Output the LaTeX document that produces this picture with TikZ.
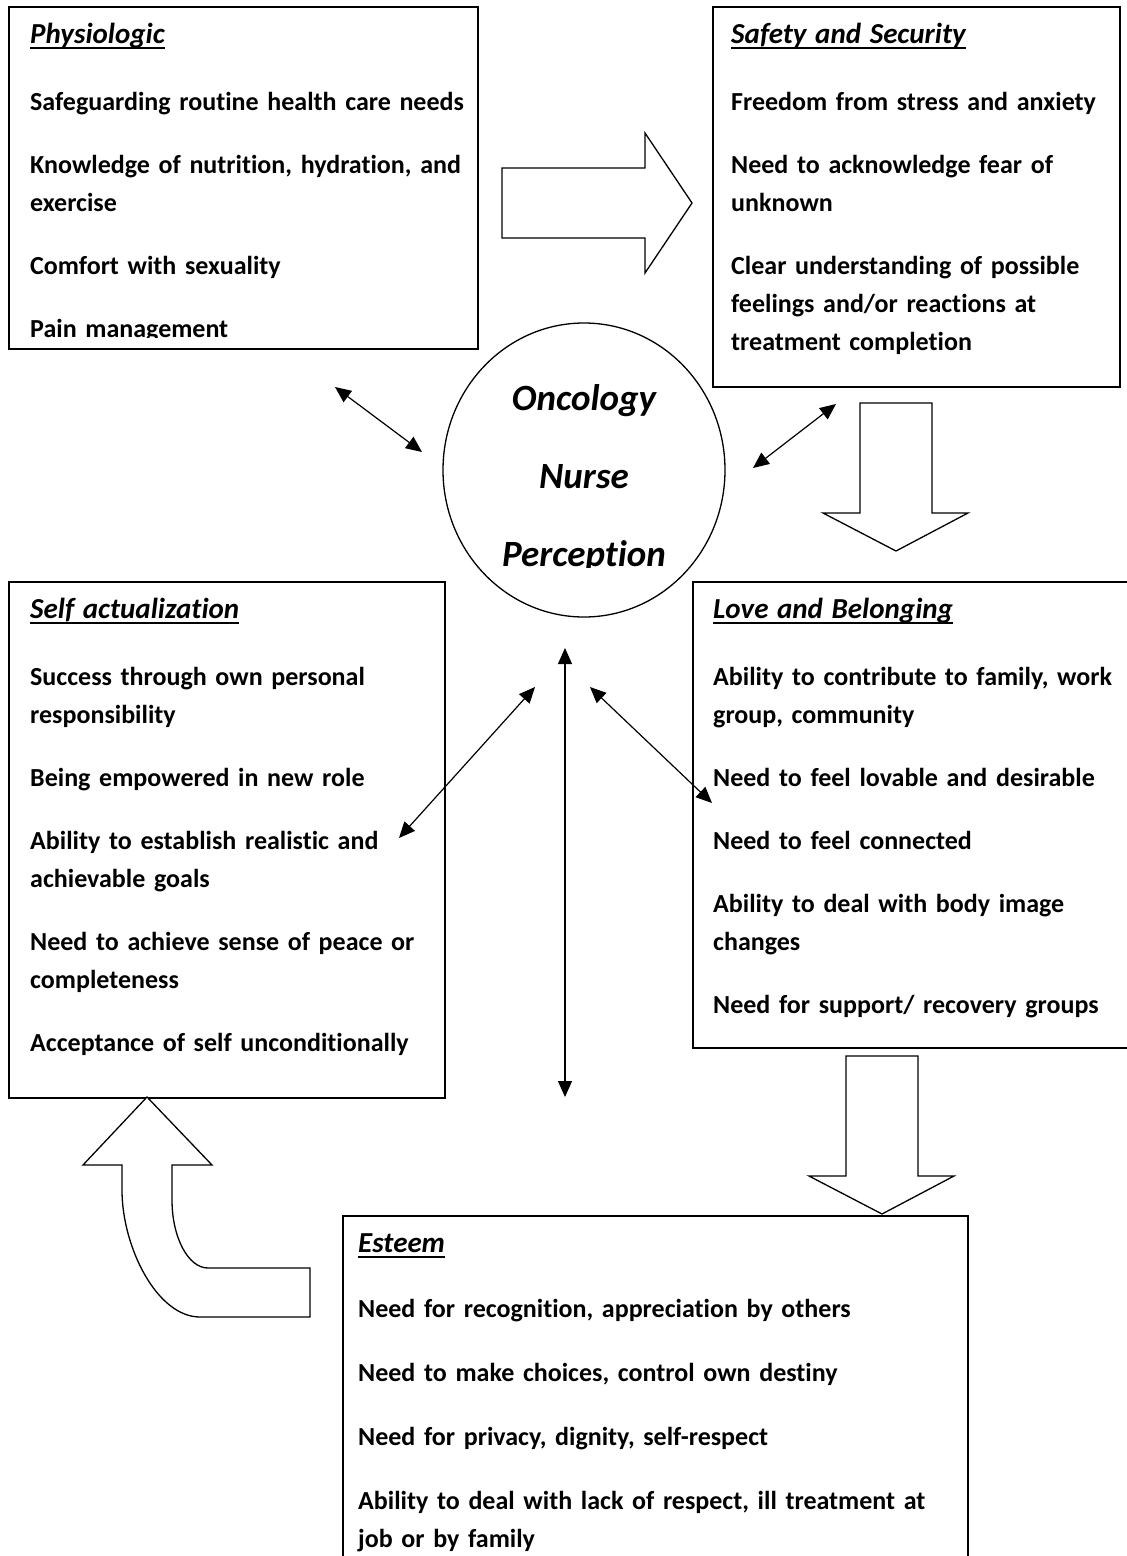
\documentclass[tikz,border=0pt]{standalone}
\usepackage{fontspec}
\setmainfont{Carlito}[Ligatures=NoCommon]
\usetikzlibrary{arrows.meta,shapes.geometric}

% underlined italic heading of a need box
\newcommand\hdr[1]{\setbox0\hbox{\fontsize{29}{38}\selectfont\itshape #1}\rlap{\rule[-6pt]{\wd0}{1.8pt}}\box0}

\begin{document}
\begin{tikzpicture}[x=1pt, y=-1pt,
    needbox/.style={draw, line width=1.5pt, anchor=north west, inner sep=0pt},
    needtext/.style={anchor=base west, inner sep=0pt, text width=600pt, align=left, font=\fontsize{26}{38}\selectfont\bfseries},
    corering/.style={draw, ellipse, line width=1.3pt, minimum width=282pt, minimum height=294pt, inner sep=0pt},
    coretext/.style={anchor=base, inner sep=0pt, text width=280pt, align=center, font=\fontsize{37}{78}\selectfont\bfseries\itshape},
    blockarr/.style={draw, line width=1.3pt, line join=miter, fill=white},
    arr/.style={{Triangle[length=16pt,width=14pt]}-{Triangle[length=16pt,width=14pt]}, line width=1.2pt}
]
\useasboundingbox (0,0) rectangle (1127,1556);

% boxes
\node[needbox, minimum width=469pt, minimum height=342pt] (phys) at (8,6) {};
\node[needbox, minimum width=407pt, minimum height=380pt] (safe) at (712,6) {};
\node[needbox, minimum width=436pt, minimum height=516pt] (selfact) at (8,581) {};
\node[needbox, minimum width=450pt, minimum height=466pt] (love) at (692,581) {};
\node[needbox, minimum width=625pt, minimum height=400pt] (esteem) at (342,1215) {};

% texts
\begin{scope}
\clip (0,0) rectangle (478,337);
\node[needtext] (phystxt) at (30,43) {\hdr{Physiologic}\\[29pt]
  Safeguarding routine health care needs\\[25pt]
  Knowledge of nutrition, hydration, and\\
  exercise\\[25pt]
  Comfort with sexuality\\[25pt]
  Pain management};
\end{scope}
\node[needtext] (safetxt) at (731,43) {\hdr{Safety and Security}\\[29pt]
  Freedom from stress and anxiety\\[25pt]
  Need to acknowledge fear of\\
  unknown\\[25pt]
  Clear understanding of possible\\
  feelings and/or reactions at\\
  treatment completion};
\node[needtext] (selftxt) at (30,618) {\hdr{Self actualization}\\[29pt]
  Success through own personal\\
  responsibility\\[25pt]
  Being empowered in new role\\[25pt]
  Ability to establish realistic and\\
  achievable goals\\[25pt]
  Need to achieve sense of peace or\\
  completeness\\[25pt]
  Acceptance of self unconditionally};
\node[needtext] (lovetxt) at (713,618) {\hdr{Love and Belonging}\\[29pt]
  Ability to contribute to family, work\\
  group, community\\[25pt]
  Need to feel lovable and desirable\\[25pt]
  Need to feel connected\\[25pt]
  Ability to deal with body image\\
  changes\\[25pt]
  Need for support/ recovery groups};
\node[needtext] (esteemtxt) at (358,1252) {\hdr{Esteem}\\[27pt]
  Need for recognition, appreciation by others\\[26pt]
  Need to make choices, control own destiny\\[26pt]
  Need for privacy, dignity, self-respect\\[26pt]
  Ability to deal with lack of respect, ill treatment at\\
  job or by family};

% centre
\node[corering] (core) at (584,470) {};
\begin{scope}
\clip (400,300) rectangle (770,567);
\node[coretext] (coretxt) at (584,410) {Oncology\\Nurse\\Perception};
\end{scope}

% block arrows
\draw[blockarr] (502,168) -- (645,168) -- (645,133) -- (692,203) -- (645,273) -- (645,238) -- (502,238) -- cycle;
\draw[blockarr] (860,403) -- (932,403) -- (932,513) -- (968,513) -- (896,551) -- (823,513) -- (860,513) -- cycle;
\draw[blockarr] (846,1056) -- (918,1056) -- (918,1176) -- (954,1176) -- (882,1214) -- (809,1176) -- (846,1176) -- cycle;
\draw[blockarr] (147,1097) -- (212,1165) -- (172,1165) -- (172,1200)
  .. controls (172,1237) and (188,1268) .. (208,1268) -- (310,1268) -- (310,1317) -- (200,1317)
  .. controls (157,1317) and (122,1247) .. (122,1190) -- (122,1165) -- (83,1165) -- cycle;

% links to the centre
\coordinate (ul1) at (335,387);  \coordinate (ul2) at (422,452);
\coordinate (ur1) at (753,468);  \coordinate (ur2) at (836,404);
\coordinate (vt1) at (565,648);  \coordinate (vt2) at (565,1097);
\coordinate (ll1) at (535,687);  \coordinate (ll2) at (399,838);
\coordinate (lr1) at (590,687);  \coordinate (lr2) at (712,803);
\draw[arr] (ul1) -- (ul2);
\draw[arr] (ur1) -- (ur2);
\draw[arr] (vt1) -- (vt2);
\draw[arr] (ll1) -- (ll2);
\draw[arr] (lr1) -- (lr2);
\end{tikzpicture}
\end{document}
